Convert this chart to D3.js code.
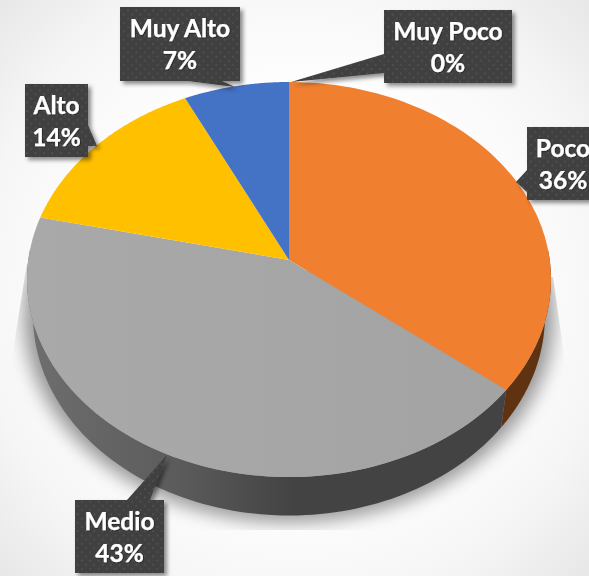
<!DOCTYPE html>
<html><head><meta charset="utf-8">
<script src="https://cdn.jsdelivr.net/npm/d3@7"></script>
<style>html,body{margin:0;padding:0;background:#fff;overflow:hidden}svg{display:block}</style>
</head><body><div id="chart"></div>
<script>
const categories = ["Muy Poco","Poco","Medio","Alto","Muy Alto"];
const counts = [0,5,6,2,1];
const topColors = ["#5b9bd5","#f07f30","#a5a5a5","#ffc000","#4472c4"];
const wallColors = ["#2d4e6b","#5f3211","url(#wallGrey)","#7f6000","#223962"];

const W=589,H=576,cx=289,k=0.0988;
const svg=d3.select("#chart").append("svg").attr("width",W).attr("height",H);
const defs=svg.append("defs");

function lin(id,x1,y1,x2,y2,stops){const g=defs.append("linearGradient").attr("id",id)
  .attr("gradientUnits","userSpaceOnUse").attr("x1",x1).attr("y1",y1).attr("x2",x2).attr("y2",y2);
  stops.forEach(s=>g.append("stop").attr("offset",s[0]).attr("stop-color",s[1]));}
lin("wallGrey",30,0,510,0,[[0,"#6e6e6e"],[0.3,"#5c5c5c"],[0.55,"#434343"],[1,"#434343"]]);
lin("greyTop",30,0,510,0,[[0,"#a9a9a9"],[1,"#a3a3a3"]]);
const rg=defs.append("radialGradient").attr("id","bgGrad").attr("gradientUnits","userSpaceOnUse")
  .attr("cx",294).attr("cy",288).attr("r",420);
[[0,"#ffffff"],[0.45,"#ffffff"],[0.75,"#f6f6f6"],[1,"#e6e6e6"]].forEach(s=>rg.append("stop").attr("offset",s[0]).attr("stop-color",s[1]));

const blur=defs.append("filter").attr("id","pieShadow").attr("x","-20%").attr("y","-20%").attr("width","140%").attr("height","140%");
blur.append("feGaussianBlur").attr("stdDeviation",9);
const ds=defs.append("filter").attr("id","boxShadow").attr("x","-20%").attr("y","-20%").attr("width","150%").attr("height","150%");
ds.append("feDropShadow").attr("dx",3).attr("dy",3).attr("stdDeviation",2).attr("flood-color","#000").attr("flood-opacity",0.45);
const ts=defs.append("filter").attr("id","textShadow").attr("x","-10%").attr("y","-10%").attr("width","120%").attr("height","130%");
ts.append("feDropShadow").attr("dx",0.6).attr("dy",0.6).attr("stdDeviation",0.5).attr("flood-color","#000").attr("flood-opacity",0.6);
const pat=defs.append("pattern").attr("id","dots").attr("width",8.4).attr("height",8.4).attr("patternUnits","userSpaceOnUse");
pat.append("rect").attr("width",8.4).attr("height",8.4).attr("fill","#3f3f3f");
pat.append("circle").attr("cx",2).attr("cy",2).attr("r",1).attr("fill","#535353");
pat.append("circle").attr("cx",6.2).attr("cy",6.2).attr("r",1).attr("fill","#535353");
defs.append("clipPath").attr("id","shadowClip").append("path").attr("d","M27,263 L8,382 L8,530 L568,530 L568,383 L553,277 Z");

svg.append("rect").attr("width",W).attr("height",H).attr("fill","url(#bgGrad)");

// perspective view of a unit disc
const topDisc={y0:260,A:260.7,B:195.6}, botDisc={y0:295.8,A:254.7,B:198}, shadowDisc={y0:296,A:264,B:204};
const sx=d=>d3.scaleLinear().domain([-1,1]).range([cx-d.A,cx+d.A]);
const sy=d=>d3.scaleLinear().domain([-1,1]).range([d.y0+d.B,d.y0-d.B]);
function proj(d,a,r=1){const u=r*Math.sin(a),v=r*Math.cos(a),w=1+k*v;
  return [sx(d)(u/w),sy(d)(v/w)];}
const line=d3.line();
const arcPts=(d,a0,a1)=>d3.range(0,97).map(i=>proj(d,a0+(a1-a0)*i/96));

const pie=d3.pie().sort(null).value(v=>v);
const slices=pie(counts);

// soft cast shadow
svg.append("g").attr("clip-path","url(#shadowClip)")
 .append("path").attr("d",line(arcPts(shadowDisc,0,2*Math.PI))+"Z")
 .attr("fill","#000").attr("opacity",0.4).attr("filter","url(#pieShadow)");

// side walls: only the front half of the rim is visible
const cl=(a)=>Math.max(Math.PI/2-0.05,Math.min(3*Math.PI/2+0.05,a));
svg.append("g").selectAll("path").data(slices).join("path")
 .attr("d",s=>{const a0=cl(s.startAngle),a1=cl(s.endAngle);if(a1<=a0)return null;
   return line(arcPts(topDisc,a0,a1).concat(arcPts(botDisc,a0,a1).reverse()))+"Z";})
 .attr("fill",(s,i)=>wallColors[i]);

// top face
svg.append("g").selectAll("path").data(slices.filter(s=>s.value>0)).join("path")
 .attr("d",s=>line([[cx,topDisc.y0]].concat(arcPts(topDisc,s.startAngle,s.endAngle)))+"Z")
 .attr("fill",s=>s.index===2?"url(#greyTop)":topColors[s.index]);

// callouts
const labels=[
 {i:0,x:384,y:10,w:128,h:73,side:"left",tip:[291,82],b:[54,73]},
 {i:1,x:527,y:127,w:72,h:73,side:"left",tip:[516,182],b:[170,192]},
 {i:2,x:75,y:500,w:89,h:73,side:"top",tip:[167,455],b:[127,150]},
 {i:3,x:25,y:84,w:63,h:73,side:"right",tip:[97,146],b:[125,146]},
 {i:4,x:120,y:7,w:120,h:74,side:"bottom",tip:[235,87],b:[188,222]}];
function callout(d){
  const x0=d.x,x1=d.x+d.w,y0=d.y,y1=d.y+d.h,[p,q]=d.b;
  const s={left:[[x0,y0],[x1,y0],[x1,y1],[x0,y1],[x0,q],d.tip,[x0,p]],
           right:[[x0,y0],[x1,y0],[x1,p],d.tip,[x1,q],[x1,y1],[x0,y1]],
           top:[[x0,y0],[p,y0],d.tip,[q,y0],[x1,y0],[x1,y1],[x0,y1]],
           bottom:[[x0,y0],[x1,y0],[x1,y1],[q,y1],d.tip,[p,y1],[x0,y1]]};
  return line(s[d.side])+"Z";
}
const pct=d3.format(".0%"),tot=d3.sum(counts);
const lg=svg.append("g").selectAll("g").data(labels).join("g");
lg.append("path").attr("filter","url(#boxShadow)").attr("fill","url(#dots)").attr("d",callout);
const tx=lg.append("text").attr("filter","url(#textShadow)").attr("fill","#fff")
 .attr("stroke","#fff").attr("stroke-width",0.25)
 .attr("font-family","Lato, 'Open Sans', sans-serif").attr("font-weight",700).attr("font-size",24.5)
 .attr("text-anchor","middle");
tx.append("tspan").attr("x",d=>d.x+d.w/2).attr("y",d=>d.y+30).text(d=>categories[d.i]);
tx.append("tspan").attr("x",d=>d.x+d.w/2).attr("y",d=>d.y+62).text(d=>pct(counts[d.i]/tot));
</script></body></html>
